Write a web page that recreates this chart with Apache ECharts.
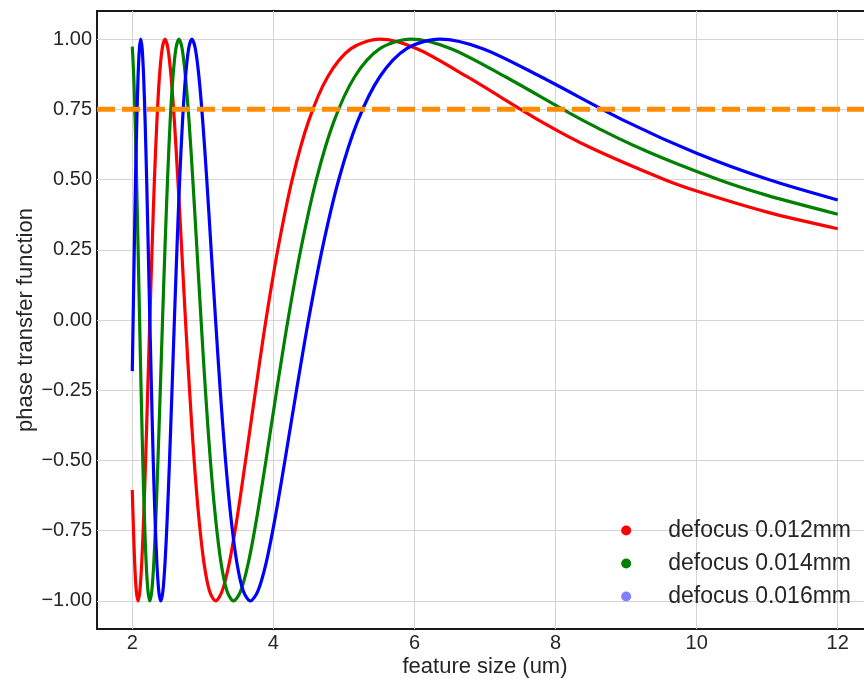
<!DOCTYPE html>
<html><head><meta charset="utf-8">
<script src="https://cdn.jsdelivr.net/npm/echarts@6/dist/echarts.min.js"></script>
<style>html,body{margin:0;padding:0;background:#fff}#c{width:864px;height:679px}</style>
</head><body><div id="c"></div>
<script>
const seriesNames = ['defocus 0.012mm', 'defocus 0.014mm', 'defocus 0.016mm'];

const redX = [2, 2.012, 2.034, 2.058, 2.082, 2.107, 2.134, 2.161, 2.189, 2.218, 2.249, 2.281, 2.314, 2.349, 2.385, 2.424, 2.464, 2.506, 2.550, 2.597, 2.646, 2.699, 2.754, 2.814, 2.877, 2.945, 3.017, 3.096, 3.181, 3.273, 3.374, 3.484, 3.606, 3.743, 3.895, 4.069, 4.267, 4.498, 4.771, 5.100, 5.509, 6.035, 6.747, 7.791, 8.5, 9.542, 10, 11, 12];
const redY = [-0.605, -0.7071, -0.866, -0.9659, -1, -0.9659, -0.866, -0.7071, -0.5, -0.2588, 0, 0.2588, 0.5, 0.7071, 0.866, 0.9659, 1, 0.9659, 0.866, 0.7071, 0.5, 0.2588, 0, -0.2588, -0.5, -0.7071, -0.866, -0.9659, -1, -0.9659, -0.866, -0.7071, -0.5, -0.2588, 0, 0.2588, 0.5, 0.7071, 0.866, 0.9659, 1, 0.9659, 0.866, 0.7071, 0.613, 0.5, 0.4589, 0.3839, 0.325];

const greenX = [2, 2.002, 2.021, 2.041, 2.061, 2.082, 2.104, 2.126, 2.149, 2.173, 2.197, 2.223, 2.249, 2.276, 2.305, 2.334, 2.364, 2.396, 2.429, 2.464, 2.500, 2.537, 2.577, 2.618, 2.661, 2.707, 2.754, 2.805, 2.858, 2.915, 2.975, 3.039, 3.107, 3.181, 3.259, 3.344, 3.435, 3.535, 3.644, 3.763, 3.895, 4.042, 4.207, 4.395, 4.609, 4.858, 5.153, 5.509, 5.950, 6.518, 7.288, 8.415, 9.3, 10.306, 11, 12];
const greenY = [0.973, 0.9659, 0.866, 0.7071, 0.5, 0.2588, 0, -0.2588, -0.5, -0.7071, -0.866, -0.9659, -1, -0.9659, -0.866, -0.7071, -0.5, -0.2588, 0, 0.2588, 0.5, 0.7071, 0.866, 0.9659, 1, 0.9659, 0.866, 0.7071, 0.5, 0.2588, 0, -0.2588, -0.5, -0.7071, -0.866, -0.9659, -1, -0.9659, -0.866, -0.7071, -0.5, -0.2588, 0, 0.2588, 0.5, 0.7071, 0.866, 0.9659, 1, 0.9659, 0.866, 0.7071, 0.5996, 0.5, 0.4436, 0.3767];

const blueX = [2, 2.012, 2.029, 2.046, 2.064, 2.082, 2.101, 2.120, 2.140, 2.161, 2.182, 2.204, 2.226, 2.249, 2.273, 2.297, 2.323, 2.349, 2.376, 2.404, 2.434, 2.464, 2.495, 2.528, 2.562, 2.597, 2.634, 2.672, 2.712, 2.755, 2.799, 2.845, 2.894, 2.945, 2.999, 3.056, 3.116, 3.181, 3.249, 3.322, 3.400, 3.484, 3.575, 3.673, 3.779, 3.896, 4.023, 4.164, 4.322, 4.498, 4.698, 4.927, 5.194, 5.509, 5.889, 6.361, 6.969, 7.791, 8.996, 10, 11.018, 12];
const blueY = [-0.182, 0, 0.2588, 0.5, 0.7071, 0.866, 0.9659, 1, 0.9659, 0.866, 0.7071, 0.5, 0.2588, 0, -0.2588, -0.5, -0.7071, -0.866, -0.9659, -1, -0.9659, -0.866, -0.7071, -0.5, -0.2588, 0, 0.2588, 0.5, 0.7071, 0.866, 0.9659, 1, 0.9659, 0.866, 0.7071, 0.5, 0.2588, 0, -0.2588, -0.5, -0.7071, -0.866, -0.9659, -1, -0.9659, -0.866, -0.7071, -0.5, -0.2588, 0, 0.2588, 0.5, 0.7071, 0.866, 0.9659, 1, 0.9659, 0.866, 0.7071, 0.5937, 0.5, 0.4272];

const thresholdY = 0.75;
const xRange = [1.5, 12.5];
const yRange = [-1.1, 1.1];
const xTicks = [2, 4, 6, 8, 10, 12];
const yTicks = [-1, -0.75, -0.5, -0.25, 0, 0.25, 0.5, 0.75, 1];

const FONT = "'Liberation Sans', Arial, sans-serif";
const TXT = '#262626';
const zip = (xs, ys) => xs.map((x, i) => [x, ys[i]]);

const lineColors = ['#ff0000', '#008000', '#0000ff'];
const legendColors = ['#ff0000', '#008000', '#7f7fff'];
const dataSets = [zip(redX, redY), zip(greenX, greenY), zip(blueX, blueY)];

const chart = echarts.init(document.getElementById('c'), null, { renderer: 'canvas' });
chart.setOption({
  animation: false,
  backgroundColor: '#ffffff',
  textStyle: { fontFamily: FONT },
  grid: { left: 97, top: 11, width: 776, height: 618, show: true, borderColor: '#1a1a1a', borderWidth: 2,
    backgroundColor: 'transparent', containLabel: false, outerBoundsMode: 'none' },
  legend: {
    data: seriesNames.map((n, i) => ({ name: n, icon: 'circle', itemStyle: { color: legendColors[i] } })),
    orient: 'vertical', right: 13, top: 519, padding: 0, align: 'left',
    itemWidth: 74, itemHeight: 10, itemGap: 10,
    textStyle: { fontSize: 23, color: TXT, fontFamily: FONT },
    selectedMode: false
  },
  xAxis: {
    type: 'value', min: xRange[0], max: xRange[1],
    axisLine: { show: false },
    axisTick: { show: false, customValues: xTicks },
    axisLabel: { customValues: xTicks, fontSize: 20, color: TXT, margin: 4, fontFamily: FONT },
    splitLine: { show: true, lineStyle: { color: '#d4d4d4', width: 1 } },
    name: 'feature size (um)', nameLocation: 'middle', nameGap: 27, nameMoveOverlap: false,
    nameTextStyle: { fontSize: 22, color: TXT, fontFamily: FONT }
  },
  yAxis: {
    type: 'value', min: yRange[0], max: yRange[1],
    axisLine: { show: false },
    axisTick: { show: false, customValues: yTicks },
    axisLabel: { customValues: yTicks, fontSize: 20, color: TXT, margin: 5, fontFamily: FONT,
      formatter: v => (v < 0 ? '\u2212' : '') + Math.abs(v).toFixed(2) },
    splitLine: { show: true, lineStyle: { color: '#d4d4d4', width: 1 } },
    name: 'phase transfer function', nameLocation: 'middle', nameRotate: 90, nameGap: 60, nameMoveOverlap: false,
    nameTextStyle: { fontSize: 22, color: TXT, fontFamily: FONT }
  },
  series: seriesNames.map((n, i) => ({
    name: n, type: 'line', data: dataSets[i], showSymbol: false, symbol: 'circle',
    smooth: 0.3, lineStyle: { color: lineColors[i], width: 3.2 }, itemStyle: { color: lineColors[i] },
    silent: true, z: 2 + i
  })).concat([{
    name: 'threshold', type: 'line', data: [[xRange[0], thresholdY], [xRange[1], thresholdY]],
    showSymbol: false, silent: true, z: 10,
    lineStyle: { color: '#ff8c00', width: 5, type: [18, 7] }
  }])
});
</script></body></html>
